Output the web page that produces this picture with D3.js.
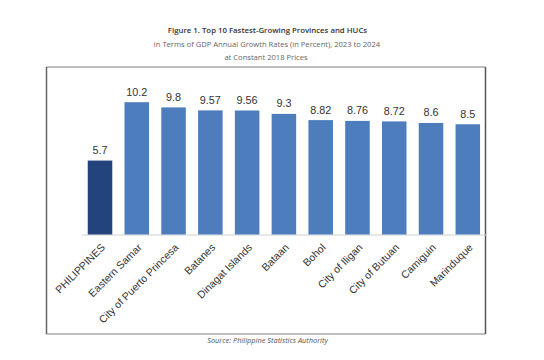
<!DOCTYPE html>
<html>
<head>
<meta charset="utf-8">
<script src="https://cdn.jsdelivr.net/npm/d3@7"></script>
<style>
html,body{margin:0;padding:0;background:#fff;}
svg{display:block;}
</style>
</head>
<body>
<svg id="chart" width="544" height="360"></svg>
<script>
const categories = ["PHILIPPINES","Eastern Samar","City of Puerto Princesa","Batanes","Dinagat Islands","Bataan","Bohol","City of Iligan","City of Butuan","Camiguin","Marinduque"];
const values = [5.7, 10.2, 9.8, 9.57, 9.56, 9.3, 8.82, 8.76, 8.72, 8.6, 8.5];
const valueLabels = ["5.7","10.2","9.8","9.57","9.56","9.3","8.82","8.76","8.72","8.6","8.5"];
const titleLines = ["Figure 1. Top 10 Fastest-Growing Provinces and HUCs","in Terms of GDP Annual Growth Rates (in Percent), 2023 to 2024","at Constant 2018 Prices"];
const sourceText = "Source: Philippine Statistics Authority";

const svg = d3.select("#chart");

// frame box
const box = {x0:46.5, y0:67, x1:485.5, y1:334};
svg.append("line").attr("x1",box.x0).attr("x2",box.x1).attr("y1",box.y0).attr("y2",box.y0).attr("stroke","#a8a8a8").attr("stroke-width",1.5);
svg.append("line").attr("x1",box.x0).attr("x2",box.x1).attr("y1",box.y1).attr("y2",box.y1).attr("stroke","#a8a8a8").attr("stroke-width",1.5);
svg.append("line").attr("x1",box.x0).attr("x2",box.x0).attr("y1",box.y0).attr("y2",box.y1).attr("stroke","#666").attr("stroke-width",1.5);
svg.append("line").attr("x1",box.x1).attr("x2",box.x1).attr("y1",box.y0).attr("y2",box.y1).attr("stroke","#555").attr("stroke-width",1.5);

// titles
const tg = svg.append("g").attr("text-anchor","middle").attr("font-family","'Open Sans', sans-serif");
tg.append("text").attr("x",267.5).attr("y",33).attr("font-size",7.8).attr("font-weight",600).attr("fill","#333").text(titleLines[0]);
tg.append("text").attr("x",267).attr("y",46.5).attr("font-size",7.6).attr("fill","#666").text(titleLines[1]);
tg.append("text").attr("x",266).attr("y",60).attr("font-size",7.6).attr("fill","#666").text(titleLines[2]);

// scales
const x = d3.scaleBand().domain(categories).range([81.6, 486.2]).paddingInner(0.333).paddingOuter(0.167);
const y = d3.scaleLinear().domain([0, 12]).range([234.5, 234.5 - 12.97*12]);

// baseline axis
const xAxis = d3.axisBottom(x).tickSize(0).tickFormat("");
const ax = svg.append("g").attr("transform",`translate(0,${y(0)})`).call(xAxis);
ax.select(".domain").attr("stroke","#d0d0d0").attr("stroke-width",1);

// bars
svg.append("g").selectAll("rect").data(categories).join("rect")
  .attr("x", d => x(d))
  .attr("y", (d,i) => y(values[i]))
  .attr("width", x.bandwidth())
  .attr("height", (d,i) => y(0) - y(values[i]))
  .attr("fill", (d,i) => i === 0 ? "#23437d" : "#4d7dbd");

// value labels
svg.append("g").selectAll("text").data(categories).join("text")
  .attr("x", d => x(d) + x.bandwidth()/2)
  .attr("y", (d,i) => y(values[i]) - 6.5)
  .attr("text-anchor","middle")
  .attr("font-family","'Liberation Sans', Arial, sans-serif")
  .attr("font-size",10.8)
  .attr("fill","#333")
  .text((d,i) => valueLabels[i]);

// category labels rotated
svg.append("g").selectAll("text").data(categories).join("text")
  .attr("transform", d => `translate(${x(d) + x.bandwidth()/2 + 3},${y(0) + 11}) rotate(-45)`)
  .attr("text-anchor","end")
  .attr("dy","0.35em")
  .attr("font-family","'Liberation Sans', Arial, sans-serif")
  .attr("font-size",10.5)
  .attr("fill","#333")
  .text(d => d);

// source
svg.append("text").attr("x",267.5).attr("y",343).attr("text-anchor","middle")
  .attr("font-family","'Open Sans', sans-serif").attr("font-style","italic")
  .attr("font-size",7.4).attr("fill","#555").text(sourceText);
</script>
</body>
</html>
